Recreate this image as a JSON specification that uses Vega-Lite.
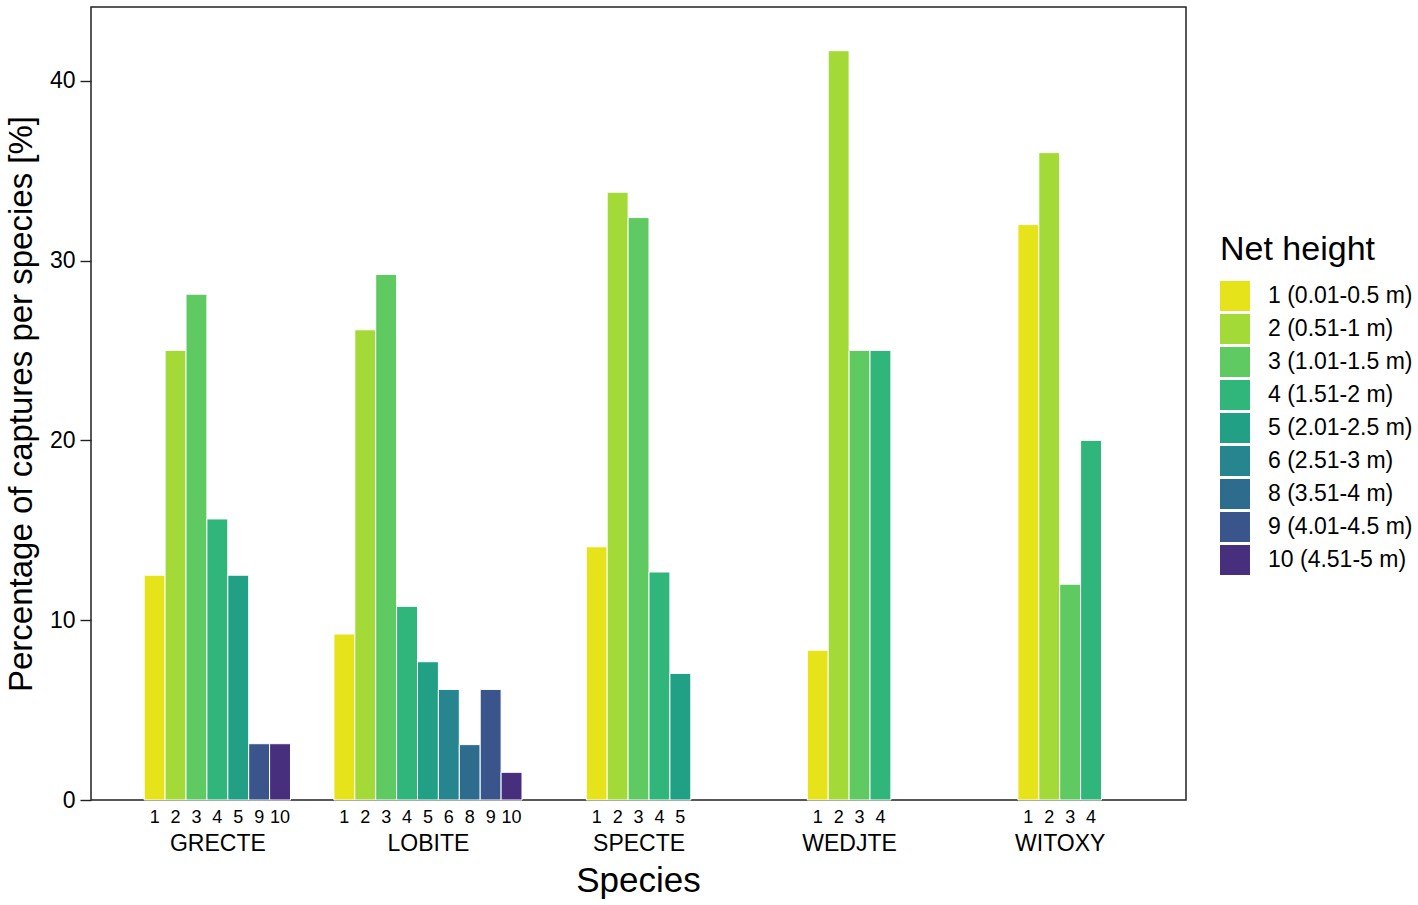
{
  "$schema": "https://vega.github.io/schema/vega-lite/v6.json",
  "padding": {"left": 5, "top": 7, "right": 0, "bottom": 0},
  "background": "white",
  "width": 1095,
  "height": 793,
  "datasets": {
    "captures": [
      {"species": "GRECTE", "nh": 1, "label": "1 (0.01-0.5 m)", "pct": 12.5},
      {"species": "GRECTE", "nh": 2, "label": "2 (0.51-1 m)", "pct": 25.0},
      {"species": "GRECTE", "nh": 3, "label": "3 (1.01-1.5 m)", "pct": 28.13},
      {"species": "GRECTE", "nh": 4, "label": "4 (1.51-2 m)", "pct": 15.63},
      {"species": "GRECTE", "nh": 5, "label": "5 (2.01-2.5 m)", "pct": 12.5},
      {"species": "GRECTE", "nh": 9, "label": "9 (4.01-4.5 m)", "pct": 3.13},
      {"species": "GRECTE", "nh": 10, "label": "10 (4.51-5 m)", "pct": 3.13},
      {"species": "LOBITE", "nh": 1, "label": "1 (0.01-0.5 m)", "pct": 9.23},
      {"species": "LOBITE", "nh": 2, "label": "2 (0.51-1 m)", "pct": 26.15},
      {"species": "LOBITE", "nh": 3, "label": "3 (1.01-1.5 m)", "pct": 29.23},
      {"species": "LOBITE", "nh": 4, "label": "4 (1.51-2 m)", "pct": 10.77},
      {"species": "LOBITE", "nh": 5, "label": "5 (2.01-2.5 m)", "pct": 7.69},
      {"species": "LOBITE", "nh": 6, "label": "6 (2.51-3 m)", "pct": 6.15},
      {"species": "LOBITE", "nh": 8, "label": "8 (3.51-4 m)", "pct": 3.08},
      {"species": "LOBITE", "nh": 9, "label": "9 (4.01-4.5 m)", "pct": 6.15},
      {"species": "LOBITE", "nh": 10, "label": "10 (4.51-5 m)", "pct": 1.54},
      {"species": "SPECTE", "nh": 1, "label": "1 (0.01-0.5 m)", "pct": 14.08},
      {"species": "SPECTE", "nh": 2, "label": "2 (0.51-1 m)", "pct": 33.8},
      {"species": "SPECTE", "nh": 3, "label": "3 (1.01-1.5 m)", "pct": 32.39},
      {"species": "SPECTE", "nh": 4, "label": "4 (1.51-2 m)", "pct": 12.68},
      {"species": "SPECTE", "nh": 5, "label": "5 (2.01-2.5 m)", "pct": 7.04},
      {"species": "WEDJTE", "nh": 1, "label": "1 (0.01-0.5 m)", "pct": 8.33},
      {"species": "WEDJTE", "nh": 2, "label": "2 (0.51-1 m)", "pct": 41.67},
      {"species": "WEDJTE", "nh": 3, "label": "3 (1.01-1.5 m)", "pct": 25.0},
      {"species": "WEDJTE", "nh": 4, "label": "4 (1.51-2 m)", "pct": 25.0},
      {"species": "WITOXY", "nh": 1, "label": "1 (0.01-0.5 m)", "pct": 32.0},
      {"species": "WITOXY", "nh": 2, "label": "2 (0.51-1 m)", "pct": 36.0},
      {"species": "WITOXY", "nh": 3, "label": "3 (1.01-1.5 m)", "pct": 12.0},
      {"species": "WITOXY", "nh": 4, "label": "4 (1.51-2 m)", "pct": 20.0}
    ]
  },
  "data": {"name": "captures"},
  "title": {
    "text": "Species",
    "orient": "bottom",
    "anchor": "middle",
    "frame": "group",
    "fontSize": 35,
    "fontWeight": "normal",
    "font": "Liberation Sans",
    "color": "black",
    "offset": 9
  },
  "layer": [
    {
      "transform": [{"filter": "datum.species == 'GRECTE'"}],
      "mark": {"type": "bar", "stroke": "white", "strokeWidth": 1},
      "encoding": {
        "x": {"field": "nh", "type": "ordinal", "scale": {"range": [53.2, 199.5], "paddingInner": 0, "paddingOuter": 0},
          "axis": {"orient": "bottom", "title": "GRECTE"}},
        "y": {"field": "pct", "type": "quantitative", "scale": {"domain": [0, 44.1], "nice": false},
          "axis": {"orient": "left", "values": [0, 10, 20, 30, 40], "title": "Percentage of captures per species [%]"}},
        "color": {"field": "label", "type": "nominal", "title": "Net height",
          "scale": {"domain": ["1 (0.01-0.5 m)", "2 (0.51-1 m)", "3 (1.01-1.5 m)", "4 (1.51-2 m)", "5 (2.01-2.5 m)", "6 (2.51-3 m)", "8 (3.51-4 m)", "9 (4.01-4.5 m)", "10 (4.51-5 m)"],
            "range": ["#E6E31A", "#A3DA37", "#5FCA61", "#30B67B", "#21A086", "#26858E", "#2E6C8E", "#3A548C", "#472F7D"]}}
      }
    },
    {
      "transform": [{"filter": "datum.species == 'LOBITE'"}],
      "mark": {"type": "bar", "stroke": "white", "strokeWidth": 1},
      "encoding": {
        "x": {"field": "nh", "type": "ordinal", "scale": {"range": [242.9, 431.0], "paddingInner": 0, "paddingOuter": 0},
          "axis": {"orient": "bottom", "title": "LOBITE"}},
        "y": {"field": "pct", "type": "quantitative"},
        "color": {"field": "label", "type": "nominal"}
      }
    },
    {
      "transform": [{"filter": "datum.species == 'SPECTE'"}],
      "mark": {"type": "bar", "stroke": "white", "strokeWidth": 1},
      "encoding": {
        "x": {"field": "nh", "type": "ordinal", "scale": {"range": [495.3, 599.8], "paddingInner": 0, "paddingOuter": 0},
          "axis": {"orient": "bottom", "title": "SPECTE"}},
        "y": {"field": "pct", "type": "quantitative"},
        "color": {"field": "label", "type": "nominal"}
      }
    },
    {
      "transform": [{"filter": "datum.species == 'WEDJTE'"}],
      "mark": {"type": "bar", "stroke": "white", "strokeWidth": 1},
      "encoding": {
        "x": {"field": "nh", "type": "ordinal", "scale": {"range": [716.3, 799.9], "paddingInner": 0, "paddingOuter": 0},
          "axis": {"orient": "bottom", "title": "WEDJTE"}},
        "y": {"field": "pct", "type": "quantitative"},
        "color": {"field": "label", "type": "nominal"}
      }
    },
    {
      "transform": [{"filter": "datum.species == 'WITOXY'"}],
      "mark": {"type": "bar", "stroke": "white", "strokeWidth": 1},
      "encoding": {
        "x": {"field": "nh", "type": "ordinal", "scale": {"range": [926.9, 1010.5], "paddingInner": 0, "paddingOuter": 0},
          "axis": {"orient": "bottom", "title": "WITOXY"}},
        "y": {"field": "pct", "type": "quantitative"},
        "color": {"field": "label", "type": "nominal"}
      }
    }
  ],
  "resolve": {"scale": {"x": "independent"}, "axis": {"x": "independent"}},
  "config": {
    "font": "Liberation Sans",
    "view": {"stroke": "#222", "strokeWidth": 1.5},
    "axis": {
      "grid": false,
      "labelColor": "black",
      "titleColor": "black",
      "titleFontWeight": "normal",
      "labelFont": "Liberation Sans",
      "titleFont": "Liberation Sans"
    },
    "axisX": {
      "domain": false,
      "labelAngle": 0,
      "ticks": false,
      "labelPadding": 8,
      "labelFontSize": 18,
      "titleFontSize": 23,
      "titlePadding": 6
    },
    "axisY": {
      "domain": false,
      "ticks": true,
      "tickSize": 11,
      "tickColor": "#222",
      "tickWidth": 1.4,
      "labelPadding": 5,
      "labelFontSize": 23,
      "titleFontSize": 33,
      "titlePadding": 11
    },
    "legend": {
      "orient": "none",
      "legendX": 1129,
      "legendY": 226,
      "titleFontSize": 34,
      "titleFontWeight": "normal",
      "titleColor": "black",
      "titlePadding": 14,
      "labelFontSize": 23,
      "labelColor": "black",
      "labelOffset": 18,
      "labelLimit": 300,
      "symbolType": "square",
      "symbolSize": 900,
      "symbolStrokeWidth": 0,
      "symbolOpacity": 1,
      "rowPadding": 3
    }
  }
}
